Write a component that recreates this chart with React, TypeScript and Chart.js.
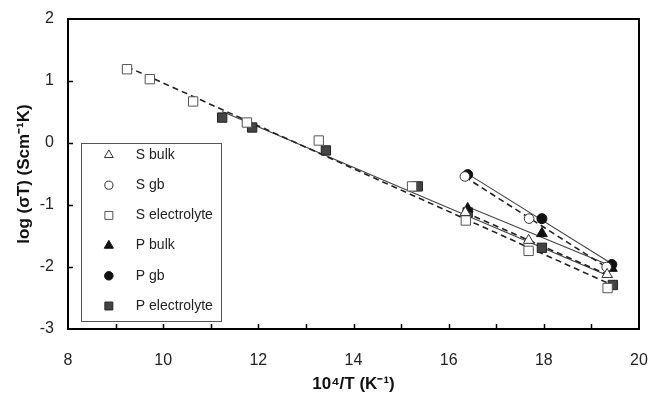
import React, { useEffect, useRef } from 'react';
import { Chart, registerables } from 'chart.js';
import { drawPoint } from 'chart.js/helpers';

Chart.register(...registerables);

// Conductivity data: x = 10^4/T (K^-1), y = log(sigma*T)
const sBulkX = [16.35, 17.68, 19.33];
const sBulkY = [-1.12, -1.57, -2.12];

const sGbX = [16.34, 17.69, 19.32];
const sGbY = [-0.54, -1.22, -2.0];

const sElecX = [9.24, 9.72, 10.63, 11.76, 13.27, 15.23, 16.36, 17.68, 19.34];
const sElecY = [1.19, 1.03, 0.67, 0.33, 0.04, -0.7, -1.25, -1.74, -2.34];

const pBulkX = [16.4, 17.96, 19.43];
const pBulkY = [-1.06, -1.46, -2.02];

const pGbX = [16.4, 17.96, 19.43];
const pGbY = [-0.51, -1.22, -1.96];

const pElecX = [11.24, 11.87, 13.42, 15.35, 16.4, 17.96, 19.45];
const pElecY = [0.41, 0.25, -0.12, -0.7, -1.12, -1.69, -2.29];

const xTicks = [8, 10, 12, 14, 16, 18, 20];
const yTicks = [2, 1, 0, -1, -2, -3];

const FONT = "'Liberation Sans', Arial, sans-serif";

const toPoints = (xs: number[], ys: number[]) => xs.map((x, i) => ({ x, y: ys[i] }));

// least-squares straight line through a series, spanning its x range
const fitLine = (xs: number[], ys: number[]) => {
  const n = xs.length;
  const mx = xs.reduce((a, b) => a + b, 0) / n;
  const my = ys.reduce((a, b) => a + b, 0) / n;
  let sxy = 0;
  let sxx = 0;
  xs.forEach((x, i) => {
    sxy += (x - mx) * (ys[i] - my);
    sxx += (x - mx) * (x - mx);
  });
  const k = sxy / sxx;
  const x0 = Math.min(...xs);
  const x1 = Math.max(...xs);
  return [
    { x: x0, y: my + k * (x0 - mx) },
    { x: x1, y: my + k * (x1 - mx) },
  ];
};

type Series = {
  label: string;
  xs: number[];
  ys: number[];
  style: 'triangle' | 'circle' | 'rect';
  fill: string;
  stroke: string;
  radius: number;
  dashed: boolean;
};

const series: Series[] = [
  { label: 'S bulk', xs: sBulkX, ys: sBulkY, style: 'triangle', fill: '#ffffff', stroke: '#333333', radius: 6, dashed: true },
  { label: 'S gb', xs: sGbX, ys: sGbY, style: 'circle', fill: '#ffffff', stroke: '#333333', radius: 4.8, dashed: true },
  { label: 'S electrolyte', xs: sElecX, ys: sElecY, style: 'rect', fill: '#ffffff', stroke: '#555555', radius: 6.6, dashed: true },
  { label: 'P bulk', xs: pBulkX, ys: pBulkY, style: 'triangle', fill: '#111111', stroke: '#111111', radius: 6.2, dashed: false },
  { label: 'P gb', xs: pGbX, ys: pGbY, style: 'circle', fill: '#111111', stroke: '#111111', radius: 5, dashed: false },
  { label: 'P electrolyte', xs: pElecX, ys: pElecY, style: 'rect', fill: '#444444', stroke: '#222222', radius: 6.6, dashed: false },
];

const framePlugin = {
  id: 'frame',
  afterDatasetsDraw(chart: any) {
    const { ctx, chartArea } = chart;
    const { left, right, top, bottom } = chartArea;
    const xs = chart.scales.x;
    const ys = chart.scales.y;
    ctx.save();
    ctx.strokeStyle = '#000';
    // inward tick marks
    ctx.lineWidth = 1.5;
    for (let v = 9; v < 20; v += 1) {
      const px = Math.round(xs.getPixelForValue(v)) + 0.5;
      ctx.beginPath();
      ctx.moveTo(px, bottom);
      ctx.lineTo(px, bottom - 5);
      ctx.stroke();
    }
    for (let v = -2; v <= 1; v += 1) {
      const py = Math.round(ys.getPixelForValue(v)) + 0.5;
      ctx.beginPath();
      ctx.moveTo(left, py);
      ctx.lineTo(left + 5, py);
      ctx.stroke();
    }
    // plot frame
    ctx.lineWidth = 2;
    ctx.strokeRect(left, top, right - left, bottom - top);

    // legend box
    const bx0 = xs.getPixelForValue(8.27);
    const bx1 = xs.getPixelForValue(11.21);
    const by0 = ys.getPixelForValue(0);
    ctx.lineWidth = 1;
    ctx.strokeStyle = '#555';
    ctx.fillStyle = '#fff';
    ctx.fillRect(bx0, by0, bx1 - bx0, 321 - by0);
    ctx.strokeRect(Math.round(bx0) + 0.5, Math.round(by0) + 0.5, Math.round(bx1 - bx0), Math.round(321 - by0));
    ctx.font = `14px ${FONT}`;
    ctx.textBaseline = 'middle';
    ctx.textAlign = 'left';
    series.forEach((s, i) => {
      const y = 155 + i * 30.2;
      ctx.fillStyle = s.fill;
      ctx.strokeStyle = s.stroke;
      ctx.lineWidth = 1;
      drawPoint(ctx, { pointStyle: s.style, rotation: 0, radius: s.radius * 0.85, borderWidth: 1 } as any, bx0 + 28, y);
      ctx.fillStyle = '#222';
      ctx.fillText(s.label, bx0 + 55, y);
    });
    ctx.restore();
  },
};

export default function App() {
  const ref = useRef<HTMLCanvasElement>(null);

  useEffect(() => {
    if (!ref.current) return;

    const lineSets = series.map((s) => ({
      type: 'line' as const,
      label: s.label + ' fit',
      data: fitLine(s.xs, s.ys),
      borderColor: s.dashed ? '#222222' : '#444444',
      borderWidth: s.dashed ? 1.6 : 1.1,
      borderDash: s.dashed ? [6, 4] : [],
      pointRadius: 0,
      showLine: true,
      fill: false,
      order: 2,
    }));

    const markerSets = series.map((s) => ({
      type: 'scatter' as const,
      label: s.label,
      data: toPoints(s.xs, s.ys),
      pointStyle: s.style,
      pointRadius: s.radius,
      pointBackgroundColor: s.fill,
      pointBorderColor: s.stroke,
      pointBorderWidth: 1,
      showLine: false,
      order: 1,
    }));

    const chart = new Chart(ref.current, {
      type: 'scatter',
      data: { datasets: [...markerSets, ...lineSets] as any },
      options: {
        animation: false,
        responsive: false,
        layout: { padding: { left: 0, right: 12, top: 19, bottom: 0 } },
        plugins: {
          legend: { display: false },
          tooltip: { enabled: false },
        },
        scales: {
          x: {
            type: 'linear',
            min: 8,
            max: 20,
            border: { display: false },
            grid: { display: false, drawTicks: false },
            afterFit: (scale: any) => {
              scale.height = 68;
              scale.paddingLeft = 0;
              scale.paddingRight = 0;
            },
            afterBuildTicks: (scale: any) => {
              scale.ticks = xTicks.map((v) => ({ value: v }));
            },
            ticks: {
              padding: 22,
              color: '#222',
              font: { family: FONT, size: 16 },
              maxRotation: 0,
              autoSkip: false,
            },
            title: {
              display: true,
              text: '10⁴/T (K⁻¹)',
              color: '#111',
              font: { family: FONT, size: 17, weight: 'bold' },
              padding: { top: 0, bottom: 2 },
            },
          },
          y: {
            type: 'linear',
            min: -3,
            max: 2,
            border: { display: false },
            grid: { display: false, drawTicks: false },
            afterFit: (scale: any) => {
              scale.width = 68;
              scale.paddingTop = 0;
              scale.paddingBottom = 0;
            },
            afterBuildTicks: (scale: any) => {
              scale.ticks = yTicks.map((v) => ({ value: v }));
            },
            ticks: {
              padding: 14,
              color: '#222',
              font: { family: FONT, size: 16 },
            },
            title: {
              display: true,
              text: 'log (σT) (Scm⁻¹K)',
              color: '#111',
              font: { family: FONT, size: 17, weight: 'bold' },
              padding: { top: 14, bottom: 0 },
            },
          },
        },
      },
      plugins: [framePlugin],
    });

    return () => chart.destroy();
  }, []);

  return (
    <div style={{ position: 'absolute', left: 0, top: 0, width: 651, height: 397, background: '#fff' }}>
      <canvas ref={ref} width={651} height={397} />
    </div>
  );
}
